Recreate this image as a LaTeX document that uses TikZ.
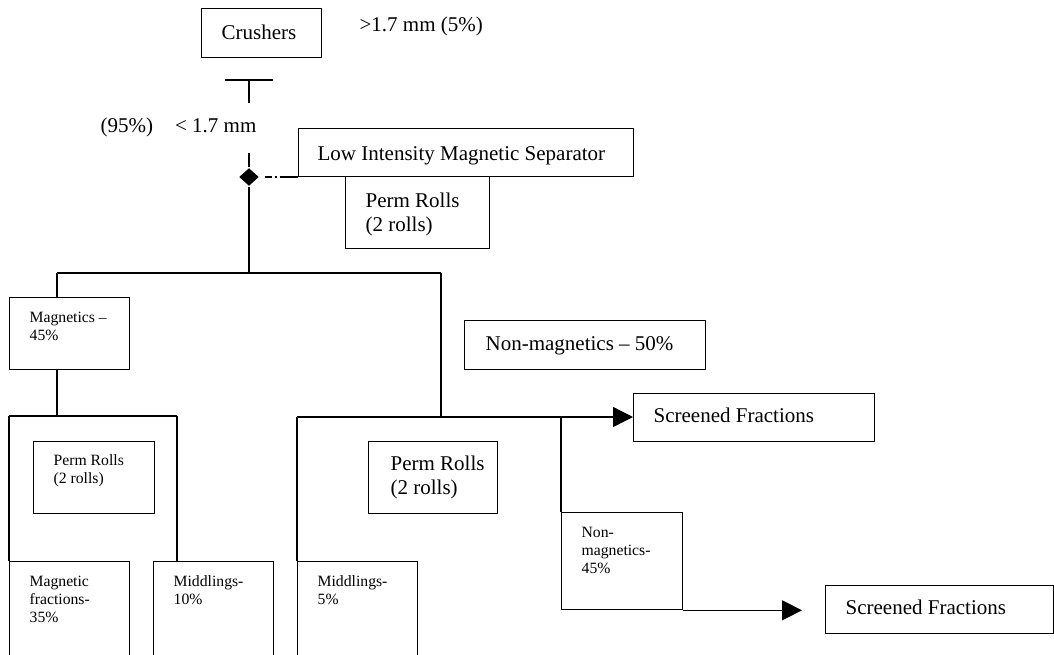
\documentclass[tikz,border=0pt]{standalone}
\usepackage{fontspec}
\setmainfont{Liberation Serif}
\usetikzlibrary{arrows.meta, positioning, shapes.geometric}

\begin{document}
\begin{tikzpicture}[x=1pt, y=-1pt, line width=1.3pt,
    box/.style={draw, rectangle, inner sep=0pt, anchor=north west},
    big/.style={inner sep=0pt, anchor=base west, align=left, font=\fontsize{21}{24}\selectfont},
    small/.style={inner sep=0pt, anchor=base west, align=left, font=\fontsize{15.7}{18}\selectfont},
    tip/.style={-{Triangle[length=20pt, width=20pt]}}]
    \useasboundingbox (0,0) rectangle (1054,654);
    \clip (0,0) rectangle (1054,654);

    \node[box, minimum width=120pt, minimum height=49pt] (cr) at (201,8) {};
    \node[box, minimum width=335pt, minimum height=48pt] (lims) at (298,128) {};
    \node[box, minimum width=144pt, minimum height=72pt] (pr1) at (345,176) {};
    \node[box, minimum width=120pt, minimum height=72pt] (mag) at (9,297) {};
    \node[box, minimum width=121pt, minimum height=72pt] (pr2) at (33,441) {};
    \node[box, minimum width=120pt, minimum height=120pt] (mf) at (9,561) {};
    \node[box, minimum width=120pt, minimum height=120pt] (md10) at (153,561) {};
    \node[box, minimum width=120pt, minimum height=120pt] (md5) at (297,561) {};
    \node[box, minimum width=129pt, minimum height=72pt] (pr3) at (368,441) {};
    \node[box, minimum width=241pt, minimum height=49pt] (nm50) at (464,320) {};
    \node[box, minimum width=241pt, minimum height=48pt] (sf1) at (633,393) {};
    \node[box, minimum width=121pt, minimum height=97pt] (nm45) at (561,512) {};
    \node[box, minimum width=228pt, minimum height=48pt] (sf2) at (825,585) {};
    \node[diamond, fill, inner sep=0pt, minimum width=20pt, minimum height=18pt] (dm) at (249,177) {};

    \node[big] (crt) at ([shift={(20,31)}]cr.north west) {Crushers};
    \node[big] (gt) at (359,31) {>1.7 mm (5\%)};
    \node[big] (lt) at (100,132) {(95\%)\hspace{22pt}< 1.7 mm};
    \node[big] (limst) at ([shift={(19,32)}]lims.north west) {Low Intensity Magnetic Separator};
    \node[big] (pr1t) at ([shift={(20,55)}]pr1.north west) {Perm Rolls\\(2 rolls)};
    \node[small] (magt) at ([shift={(20,43)}]mag.north west) {Magnetics --\\45\%};
    \node[small] (pr2t) at ([shift={(20,42)}]pr2.north west) {Perm Rolls\\(2 rolls)};
    \node[small] (mft) at ([shift={(20,61)}]mf.north west) {Magnetic\\fractions-\\35\%};
    \node[small] (md10t) at ([shift={(20,43)}]md10.north west) {Middlings-\\10\%};
    \node[small] (md5t) at ([shift={(20,43)}]md5.north west) {Middlings-\\5\%};
    \node[big] (pr3t) at ([shift={(22,53)}]pr3.north west) {Perm Rolls\\(2 rolls)};
    \node[big] (nm50t) at ([shift={(21,30)}]nm50.north west) {Non-magnetics -- 50\%};
    \node[big] (sf1t) at ([shift={(20,29)}]sf1.north west) {Screened Fractions};
    \node[small] (nm45t) at ([shift={(20,61)}]nm45.north west) {Non-\\magnetics-\\45\%};
    \node[big] (sf2t) at ([shift={(20,29)}]sf2.north west) {Screened Fractions};

    \coordinate (ta) at (225,80);
    \coordinate (tb) at (273,80);
    \coordinate (tc) at (249,80);
    \coordinate (td) at (249,103);
    \coordinate (d0) at (249,153);
    \coordinate (j0) at (249,273);
    \coordinate (jl) at (57,273);
    \coordinate (jr) at (441,273);
    \coordinate (kl) at (9,416);
    \coordinate (kr) at (177,416);
    \coordinate (ml) at (297,417);
    \coordinate (ms) at (561,417);
    \coordinate (a2) at (802,609);

    \draw (ta) -- (tb) (tc) -- (td);
    \draw (d0) -- (dm) -- (j0);
    \draw[dash pattern=on 0pt off 5pt on 7pt off 3pt on 2pt off 3pt on 30pt off 0pt] (dm) -- (dm -| lims.west); % dash-dot link
    \draw (jl) -- (jr);
    \draw (jl) -- (jl |- mag.north);
    \draw (mag.south -| jl) -- (jl |- kl);
    \draw (kl) -- (kr);
    \draw (kl) -- (mf.north west);
    \draw (kr) -- (kr |- md10.north);
    \draw (jr) -- (jr |- ml);
    \draw[tip] (ml) -- (ml -| sf1.west);
    \draw (ml) -- (md5.north west);
    \draw (ms) -- (nm45.north west);
    \draw[tip] (nm45.south east) -- (nm45.south east -| a2);
\end{tikzpicture}
\end{document}
